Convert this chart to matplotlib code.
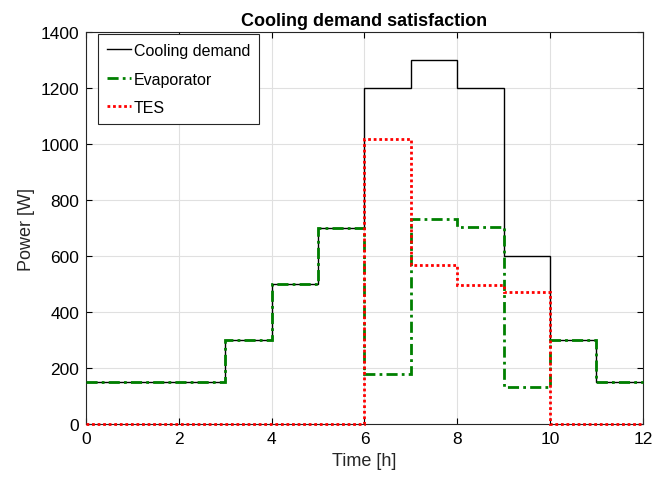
import numpy as np
import matplotlib
matplotlib.use('Agg')
import matplotlib.pyplot as plt

plt.rcParams['font.family'] = ['Liberation Sans', 'DejaVu Sans']

# hourly step data, edges 0..12 h
edges = np.arange(0, 13)
demand = [150, 150, 150, 300, 500, 700, 1200, 1300, 1200, 600, 300, 150]
evaporator = [150, 150, 150, 300, 500, 700, 180, 733, 704, 132, 300, 150]
tes = [0, 0, 0, 0, 0, 0, 1020, 567, 496, 470, 0, 0]

fig = plt.figure(figsize=(6.52, 4.81), dpi=100)
ax = fig.add_axes([0.132, 0.1164, 0.854, 0.8146])

ax.stairs(demand, edges, color='black', lw=1.0, label='Cooling demand',
          baseline=None, clip_on=False, zorder=3)
ax.stairs(evaporator, edges, color='green', lw=2.0, ls=(0, (4, 1.5, 1, 1.5)),
          label='Evaporator', baseline=None, clip_on=False, zorder=4)
ax.stairs(tes, edges, color='red', lw=2.0, ls=(0, (1, 1)), label='TES',
          baseline=None, clip_on=False, zorder=5)

ax.set_xlim(0, 12)
ax.set_ylim(0, 1400)
ax.set_xticks(np.arange(0, 13, 2))
ax.set_yticks(np.arange(0, 1401, 200))
ax.grid(True, color='#e0e0e0', lw=0.8)
ax.set_axisbelow(True)
ax.tick_params(direction='in', labelsize=12.5, length=4, top=True, right=True, pad=5)
for s in ax.spines.values():
    s.set_linewidth(0.8)
    s.set_color('#262626')

ax.set_xlabel('Time [h]', fontsize=13, color='#262626')
ax.set_ylabel('Power [W]', fontsize=13, color='#262626')
ax.set_title('Cooling demand satisfaction', fontsize=13, fontweight='bold', pad=5)

leg = ax.legend(loc='upper left', bbox_to_anchor=(0.0215, 0.995), fontsize=11.5,
                fancybox=False, framealpha=1, edgecolor='#262626',
                handlelength=1.5, handletextpad=0.2, borderpad=0.55,
                borderaxespad=0, labelspacing=0.85)
leg.get_frame().set_linewidth(0.8)

fig.savefig('out.png', dpi=100)
